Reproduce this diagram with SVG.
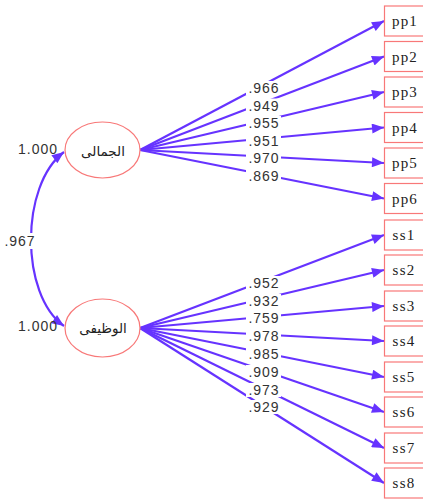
<svg xmlns="http://www.w3.org/2000/svg" width="423" height="501" viewBox="0 0 423 501">
<style>
.box{fill:#fff;stroke:#F87878;stroke-width:1.2}
.ell{fill:#fff;stroke:#F87878;stroke-width:1.2}
.ln{stroke:#6633FF;stroke-width:2.2;fill:none}
.bt{font-family:"Liberation Serif",serif;font-size:15px;letter-spacing:1.2px;fill:#222;text-anchor:middle}
.lab{font-family:"Liberation Sans",Arial,sans-serif;font-size:14px;letter-spacing:1px;fill:#333;text-anchor:middle}
.lb{fill:#fff}
.ar{font-family:"Noto Sans","DejaVu Sans",sans-serif;font-size:13.5px;fill:#222;text-anchor:middle}
</style>
<defs>
<marker id="ah" viewBox="0 0 12 10" refX="12" refY="5" markerWidth="13" markerHeight="10" markerUnits="userSpaceOnUse" orient="auto-start-reverse">
<path d="M0,0 L12,5 L0,10 Z" fill="#6633FF"/>
</marker>
</defs>
<g id="connectors">
<path class="ln" d="M64,152 C20,185 20,295 64,326" marker-start="url(#ah)" marker-end="url(#ah)"/>
<line class="ln" x1="140" y1="150" x2="384" y2="21" marker-end="url(#ah)"/>
<line class="ln" x1="140" y1="150" x2="384" y2="56.5" marker-end="url(#ah)"/>
<line class="ln" x1="140" y1="150" x2="384" y2="92" marker-end="url(#ah)"/>
<line class="ln" x1="140" y1="150" x2="384" y2="127.5" marker-end="url(#ah)"/>
<line class="ln" x1="140" y1="150" x2="384" y2="163" marker-end="url(#ah)"/>
<line class="ln" x1="140" y1="150" x2="384" y2="198.5" marker-end="url(#ah)"/>
<line class="ln" x1="140" y1="328" x2="384" y2="235" marker-end="url(#ah)"/>
<line class="ln" x1="140" y1="328" x2="384" y2="270" marker-end="url(#ah)"/>
<line class="ln" x1="140" y1="328" x2="384" y2="306" marker-end="url(#ah)"/>
<line class="ln" x1="140" y1="328" x2="384" y2="341" marker-end="url(#ah)"/>
<line class="ln" x1="140" y1="328" x2="384" y2="377" marker-end="url(#ah)"/>
<line class="ln" x1="140" y1="328" x2="384" y2="412" marker-end="url(#ah)"/>
<line class="ln" x1="140" y1="328" x2="384" y2="448" marker-end="url(#ah)"/>
<line class="ln" x1="140" y1="328" x2="384" y2="483" marker-end="url(#ah)"/>
</g>
<g id="labels">
<rect class="lb" x="2" y="233" width="34" height="16"/>
<text class="lab" x="20" y="246">.967</text>
<rect class="lb" x="246" y="81" width="35" height="14"/><text class="lab" x="264" y="93">.966</text>
<rect class="lb" x="246" y="98.5" width="35" height="14"/><text class="lab" x="264" y="110.5">.949</text>
<rect class="lb" x="246" y="116" width="35" height="14"/><text class="lab" x="264" y="128">.955</text>
<rect class="lb" x="246" y="133.5" width="35" height="14"/><text class="lab" x="264" y="145.5">.951</text>
<rect class="lb" x="246" y="151" width="35" height="14"/><text class="lab" x="264" y="163">.970</text>
<rect class="lb" x="246" y="168.5" width="35" height="14"/><text class="lab" x="264" y="180.5">.869</text>
<rect class="lb" x="246" y="276" width="35" height="14"/><text class="lab" x="264" y="288">.952</text>
<rect class="lb" x="246" y="294" width="35" height="14"/><text class="lab" x="264" y="306">.932</text>
<rect class="lb" x="246" y="311" width="35" height="14"/><text class="lab" x="264" y="323">.759</text>
<rect class="lb" x="246" y="329" width="35" height="14"/><text class="lab" x="264" y="341">.978</text>
<rect class="lb" x="246" y="347" width="35" height="14"/><text class="lab" x="264" y="359">.985</text>
<rect class="lb" x="246" y="365" width="35" height="14"/><text class="lab" x="264" y="377">.909</text>
<rect class="lb" x="246" y="383" width="35" height="14"/><text class="lab" x="264" y="395">.973</text>
<rect class="lb" x="246" y="400" width="35" height="14"/><text class="lab" x="264" y="412">.929</text>
</g>
<g id="f1">
<ellipse class="ell" cx="102.5" cy="150" rx="37.5" ry="28"/>
<text class="ar" x="103" y="156" direction="rtl">الجمالى</text>
<text class="lab" x="38" y="154">1.000</text>
</g>
<g id="f2">
<ellipse class="ell" cx="102.5" cy="328" rx="37.5" ry="29"/>
<text class="ar" x="103" y="333" direction="rtl">الوظيفى</text>
<text class="lab" x="38" y="331">1.000</text>
</g>
<g id="pp1"><rect class="box" x="384.5" y="6" width="40" height="30"/><text class="bt" x="405" y="26">pp1</text></g>
<g id="pp2"><rect class="box" x="384.5" y="41.5" width="40" height="30"/><text class="bt" x="405" y="61.5">pp2</text></g>
<g id="pp3"><rect class="box" x="384.5" y="77" width="40" height="30"/><text class="bt" x="405" y="97">pp3</text></g>
<g id="pp4"><rect class="box" x="384.5" y="112.5" width="40" height="30"/><text class="bt" x="405" y="132.5">pp4</text></g>
<g id="pp5"><rect class="box" x="384.5" y="148" width="40" height="30"/><text class="bt" x="405" y="168">pp5</text></g>
<g id="pp6"><rect class="box" x="384.5" y="183.5" width="40" height="30"/><text class="bt" x="405" y="203.5">pp6</text></g>
<g id="ss1"><rect class="box" x="384.5" y="220" width="40" height="30"/><text class="bt" x="404" y="240">ss1</text></g>
<g id="ss2"><rect class="box" x="384.5" y="255" width="40" height="30"/><text class="bt" x="404" y="275">ss2</text></g>
<g id="ss3"><rect class="box" x="384.5" y="291" width="40" height="30"/><text class="bt" x="404" y="311">ss3</text></g>
<g id="ss4"><rect class="box" x="384.5" y="326" width="40" height="30"/><text class="bt" x="404" y="346">ss4</text></g>
<g id="ss5"><rect class="box" x="384.5" y="362" width="40" height="30"/><text class="bt" x="404" y="382">ss5</text></g>
<g id="ss6"><rect class="box" x="384.5" y="397" width="40" height="30"/><text class="bt" x="404" y="417">ss6</text></g>
<g id="ss7"><rect class="box" x="384.5" y="433" width="40" height="30"/><text class="bt" x="404" y="453">ss7</text></g>
<g id="ss8"><rect class="box" x="384.5" y="468" width="40" height="30"/><text class="bt" x="404" y="488">ss8</text></g>
</svg>
